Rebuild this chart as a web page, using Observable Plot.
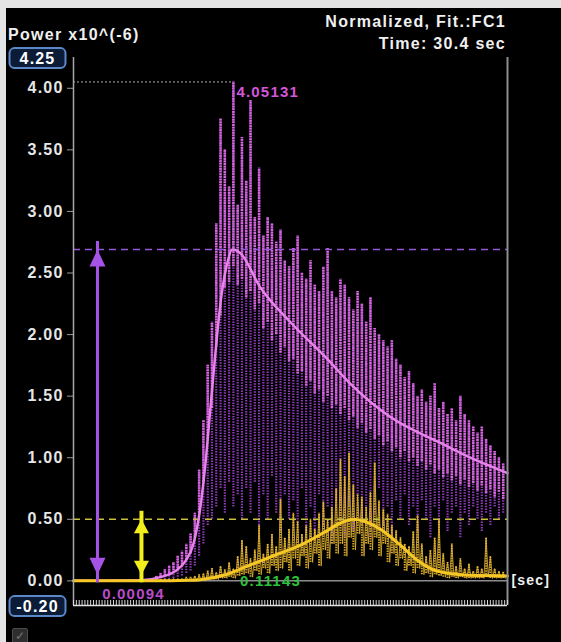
<!DOCTYPE html>
<html><head><meta charset="utf-8">
<script src="https://cdn.jsdelivr.net/npm/d3@7"></script>
<script src="https://cdn.jsdelivr.net/npm/@observablehq/plot@0.6"></script>
<style>
html,body{margin:0;padding:0;background:#000;}
#wrap{position:relative;width:561px;height:642px;background:#000;overflow:hidden;font-family:"Liberation Sans",Arial,sans-serif;}
.lbl{position:absolute;color:#f0f0f0;font-weight:bold;font-size:16px;line-height:16px;letter-spacing:1.3px;white-space:nowrap;}
</style></head><body>
<div id="wrap">
<div id="chart" style="position:absolute;left:0;top:0"></div>
<div style="position:absolute;left:0;top:0;width:561px;height:8px;background:#e4e4e4"></div>
<div style="position:absolute;left:0;top:0;width:6px;height:642px;background:#e4e4e4"></div>
<div class="lbl" style="left:8px;top:27px">Power x10^(-6)</div>
<div class="lbl" style="right:55px;top:14px;text-align:right">Normalized, Fit.:FC1</div>
<div class="lbl" style="right:55px;top:36px;text-align:right">Time: 30.4 sec</div>
<div style="position:absolute;left:12px;top:628px;width:14px;height:14px;background:#2e2e2e;border:1px solid #4a4a4a;border-radius:2px;color:#777;font-size:12px;line-height:14px;text-align:center">✓</div>
</div>
<script>
// ---- data ----
const sampleStart = 5.8, sampleStep = 0.3;   // seconds
const magHi = [0.04,0.06,0.09,0.12,0.15,0.2,0.24,0.3,0.38,0.55,
  0.9,1.3,1.75,2.1,2.9,3.75,3.5,3.2,4.05131,3.05,
  3.6,3.25,3.9,2.95,3.35,2.8,2.95,2.9,2.75,2.85,
  2.6,2.55,2.7,2.8,2.5,2.45,2.6,2.4,2.35,2.55,
  2.7,2.35,2.3,2.45,2.4,2.3,2.2,2.35,2.25,2.1,
  2.3,2.05,2.0,1.95,1.9,1.95,1.8,1.75,1.65,1.7,
  1.6,1.5,1.55,1.45,1.5,1.6,1.4,1.45,1.35,1.4,
  1.3,1.5,1.35,1.3,1.25,1.2,1.25,1.15,1.1,1.05,
  1.0,0.95];
const magMid = [0.02,0.03,0.04,0.06,0.08,0.1,0.13,0.17,0.22,0.35,
  0.55,0.8,1.15,1.4,1.9,2.15,2.38,2.42,2.55,2.4,
  2.45,2.3,2.35,2.2,2.25,2.05,2.1,1.95,2.0,1.85,
  1.9,1.78,1.8,1.68,1.7,1.58,1.62,1.52,1.55,1.45,
  1.5,1.4,1.43,1.35,1.4,1.3,1.33,1.24,1.28,1.2,
  1.23,1.15,1.18,1.1,1.13,1.05,1.08,1.0,1.05,0.97,
  1.0,0.93,0.97,0.9,0.94,0.87,0.9,0.84,0.87,0.81,
  0.85,0.78,0.82,0.76,0.79,0.73,0.77,0.71,0.74,0.68,
  0.72,0.66];
const magLo = [0,0,0.01,0.01,0.02,0.03,0.04,0.06,0.08,0.12,
  0.2,0.3,0.45,0.5,0.6,0.75,0.55,0.8,0.6,0.7,
  0.5,0.75,0.55,0.8,0.45,0.7,0.5,0.85,0.55,0.4,
  0.7,0.5,0.65,0.45,0.75,0.4,0.6,0.35,0.7,0.45,
  0.6,0.3,0.65,0.5,0.35,0.6,0.4,0.7,0.45,0.6,
  0.35,0.55,0.75,0.45,0.6,0.4,0.65,0.5,0.7,0.45,
  0.6,0.4,0.65,0.5,0.35,0.6,0.45,0.65,0.4,0.55,
  0.6,0.35,0.55,0.45,0.6,0.5,0.4,0.55,0.45,0.6,
  0.5,0.55];
const yelHi = [0.01,0.01,0.01,0.01,0.02,0.02,0.02,0.03,0.03,0.04,
  0.05,0.06,0.08,0.1,0.07,0.12,0.09,0.15,0.1,0.2,
  0.33,0.28,0.18,0.25,0.45,0.22,0.3,0.38,0.28,0.66,
  0.35,0.42,0.55,0.48,0.38,0.45,0.5,0.42,0.55,0.64,
  0.5,0.6,0.75,0.99,0.85,1.04,0.78,0.7,0.68,0.6,
  0.72,0.96,0.65,0.58,0.54,0.45,0.41,0.35,0.3,0.28,
  0.4,0.53,0.3,0.2,0.25,0.35,0.5,0.22,0.15,0.3,
  0.12,0.18,0.1,0.14,0.08,0.12,0.1,0.35,0.2,0.1,
  0.08,0.07];
const yelLo = [0,0,0,0,0,0,0,0,0,0,
  0,0,0.01,0.01,0.01,0.02,0.02,0.03,0.02,0.04,
  0.05,0.06,0.03,0.08,0.05,0.1,0.06,0.12,0.08,0.1,
  0.15,0.08,0.18,0.12,0.2,0.1,0.15,0.22,0.12,0.25,
  0.18,0.3,0.22,0.3,0.2,0.35,0.25,0.38,0.2,0.3,
  0.25,0.35,0.2,0.3,0.15,0.22,0.12,0.18,0.08,0.12,
  0.06,0.1,0.05,0.06,0.03,0.05,0.04,0.03,0.02,0.03,
  0.02,0.03,0.02,0.02,0.02,0.02,0.02,0.03,0.02,0.02,
  0.02,0.02];
const fitMagTime = [0,4.69,6.09,7.14,7.84,8.4,8.89,9.24,9.59,9.94,10.29,10.71,11.13,11.69,13.1,15.2,17.79,19.4,22.2,25.7,27.8,30.4];
const fitMag     = [0,0.005,0.03,0.08,0.16,0.3,0.6,0.95,1.4,1.85,2.25,2.55,2.69,2.66,2.38,2.1,1.8,1.6,1.33,1.12,1.0,0.875];
const fitYelTime = [0,5.39,8.19,8.89,10.64,12.39,14.15,15.9,17.65,18.7,19.61,20.45,21.5,22.9,23.95,25.21,26.4,27.8,30.4];
const fitYel     = [0,0,0.005,0.01,0.05,0.13,0.21,0.29,0.4,0.47,0.5,0.48,0.42,0.29,0.18,0.09,0.06,0.045,0.04];
const yTicks = [0,0.5,1,1.5,2,2.5,3,3.5,4];
const boundLabels = [{v: 4.25, label: "4.25"}, {v: -0.2, label: "-0.20"}];
const valueLabels = [
  {t: 4.2, v: 0.00094, text: "0.00094", color: "#b94ccb", dy: 13},
  {t: 13.8, v: 0, text: "0.11143", color: "#2cc23c", dy: 0}
];
const xDomain = [0, 30.4];
const yDomain = [-0.2, 4.25];

// ---- tables ----
const tGrid = magHi.map((_, i) => +(sampleStart + sampleStep * i).toFixed(2));
const mag = tGrid.map((t, i) => ({t, hi: magHi[i], mid: magMid[i], lo: magLo[i]}));
const yel = tGrid.map((t, i) => ({t, hi: yelHi[i], lo: yelLo[i]}));
const yelZig = tGrid.flatMap((t, i) => [{t, v: yelHi[i]}, {t: t + sampleStep / 2, v: yelLo[i]}]);
const magFit = fitMagTime.map((t, i) => ({t, v: fitMag[i]}));
const yelFit = fitYelTime.map((t, i) => ({t, v: fitYel[i]}));
const magPeak = d3.max(fitMag), yelPeak = d3.max(fitYel);
const iMax = d3.maxIndex(magHi);
const maxPt = {t: tGrid[iMax], v: magHi[iMax]};
const xTicks = d3.range(0, 30.41, 0.2);
const arrows = [
  {t: 1.68, y1: 0.05, y2: magPeak, color: "#a552e6", w: 3, hl: 17, hw: 8},
  {t: 4.76, y1: 0.05, y2: yelPeak, color: "#f2ee1c", w: 4, hl: 14, hw: 7.5}
];
const head = {draw(ctx, l, r) { ctx.moveTo(0, -l); ctx.lineTo(r, 0); ctx.lineTo(-r, 0); ctx.closePath(); }};

const plot = Plot.plot({
  width: 561, height: 642,
  marginLeft: 73, marginRight: 54, marginTop: 57, marginBottom: 37,
  x: {domain: xDomain, axis: null},
  y: {domain: yDomain, axis: null},
  style: {background: "transparent", color: "#e8e8e8", fontFamily: "Liberation Sans, Arial, sans-serif", letterSpacing: "1.2px", overflow: "visible"},
  marks: [
    Plot.ruleY([0], {stroke: "#8c8c8c", strokeWidth: 1.5}),
    Plot.ruleX(mag, {x: "t", y1: "lo", y2: "hi", stroke: "#8e3ab8", strokeWidth: 2.2, strokeDasharray: "1.5,1.2"}),
    Plot.ruleX(mag, {x: "t", y1: "mid", y2: "hi", stroke: "#e46cea", strokeWidth: 2.6, strokeOpacity: 0.9, strokeDasharray: "2,0.6"}),
    Plot.ruleY([magPeak], {stroke: "#9258d8", strokeWidth: 1.5, strokeDasharray: "7,5"}),
    Plot.ruleX(yel, {x: "t", y1: "lo", y2: "hi", stroke: "#d4a42a", strokeWidth: 2, strokeDasharray: "1.5,1"}),
    Plot.line(yelZig, {x: "t", y: "v", stroke: "#e2b534", strokeWidth: 1, strokeOpacity: 0.8}),
    Plot.ruleY([yelPeak], {stroke: "#c9c040", strokeWidth: 1.5, strokeDasharray: "7,5"}),
    Plot.line(magFit, {x: "t", y: "v", stroke: "#e882ec", strokeWidth: 2.5, curve: "monotone-x"}),
    Plot.line(yelFit, {x: "t", y: "v", stroke: "#f6c825", strokeWidth: 3, curve: "monotone-x"}),
    Plot.ruleY([maxPt], {y: "v", x1: 0, x2: "t", stroke: "#b0b0b0", strokeWidth: 1, strokeDasharray: "2,2"}),
    Plot.ruleX([xDomain[0]], {stroke: "#a8a8a8", strokeWidth: 1.5}),
    Plot.ruleX([xDomain[1]], {stroke: "#8e8e8e", strokeWidth: 2}),
    Plot.ruleY([yDomain[0]], {stroke: "#e0e0e0", strokeWidth: 1.5}),
    Plot.ruleX(xTicks, {x: d => d, y1: yDomain[0], y2: yDomain[0], insetTop: -5, stroke: "#d8d8d8", strokeWidth: 1}),
    Plot.axisY({ticks: yTicks, tickFormat: d => d.toFixed(2), tickSize: 6, tickPadding: 4, stroke: "#9a9a9a", fill: "#e6e6e6", fontSize: 16, fontWeight: "bold", label: null, anchor: "left"}),
    ...arrows.flatMap(a => [
      Plot.ruleX([a], {x: "t", y1: "y1", y2: "y2", stroke: a.color, strokeWidth: a.w, insetTop: 8, insetBottom: 8}),
      Plot.vector([a], {x: "t", y: "y2", length: a.hl, r: a.hw, rotate: 0, anchor: "end", shape: head, fill: a.color, stroke: "none"}),
      Plot.vector([a], {x: "t", y: "y1", length: a.hl, r: a.hw, rotate: 180, anchor: "end", shape: head, fill: a.color, stroke: "none"})
    ]),
    Plot.text([maxPt], {x: "t", y: "v", text: d => d.v.toFixed(5), dx: 3, dy: 10, textAnchor: "start", fill: "#d456dc", fontSize: 15, fontWeight: "bold"}),
    ...valueLabels.map(l => Plot.text([l], {x: "t", y: "v", text: "text", dy: l.dy, fill: l.color, fontSize: 15, fontWeight: "bold"})),
    Plot.text(["[sec]"], {x: xDomain[1], y: 0, text: d => d, dx: 4, textAnchor: "start", fill: "#f0f0f0", fontSize: 14, fontWeight: "bold"}),
    Plot.text(boundLabels, {y: "v", text: "label", frameAnchor: "left", textAnchor: "middle", dx: -36, dy: 1, fill: "#ffffff", fontSize: 16, fontWeight: "bold"})
  ]
});
document.getElementById("chart").append(plot);
// rounded boxes behind the axis bound labels
d3.select(plot).selectAll("text").filter(function() { return boundLabels.some(b => b.label === this.textContent); })
  .each(function() {
    const b = this.getBBox();
    const cx = b.x + b.width / 2, cy = b.y + b.height / 2;
    const r = document.createElementNS("http://www.w3.org/2000/svg", "rect");
    r.setAttribute("x", cx - 28); r.setAttribute("y", cy - 10);
    r.setAttribute("width", 56); r.setAttribute("height", 20);
    r.setAttribute("rx", 5);
    r.setAttribute("fill", "#0c1c36"); r.setAttribute("stroke", "#5a88c8"); r.setAttribute("stroke-width", 2);
    if (this.getAttribute("transform")) r.setAttribute("transform", this.getAttribute("transform"));
    this.parentNode.insertBefore(r, this);
  });
</script>
</body></html>
